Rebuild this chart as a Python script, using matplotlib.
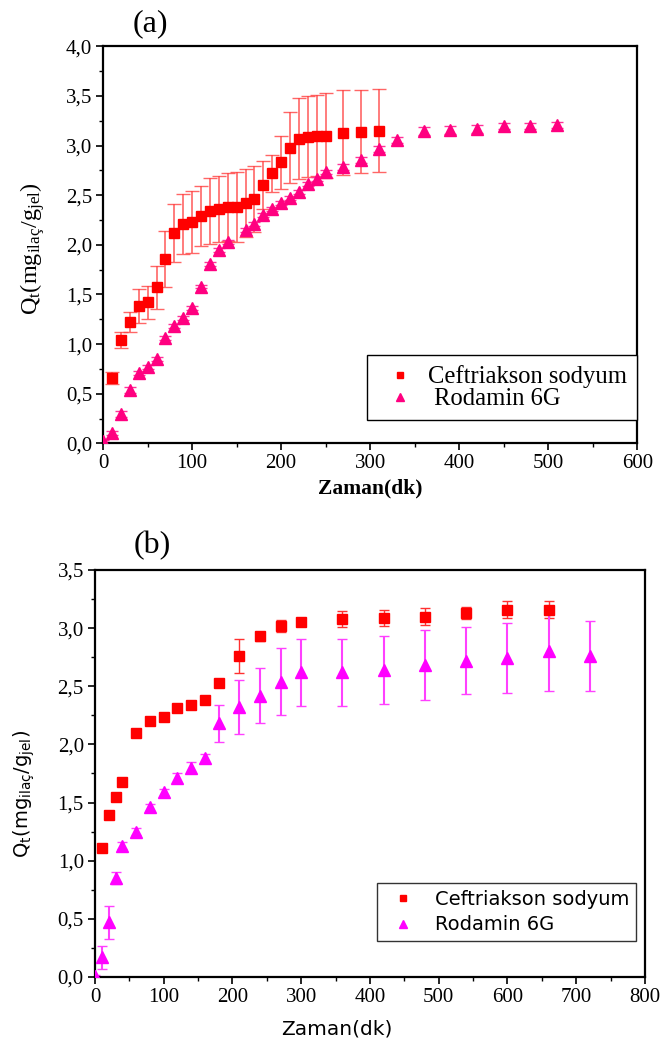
import matplotlib
matplotlib.use('Agg')
import matplotlib.pyplot as plt
from matplotlib.ticker import MultipleLocator, FuncFormatter

# panel (a)
a_cef_t = [10, 20, 30, 40, 50, 60, 70, 80, 90, 100, 110, 120, 130, 140, 150, 160, 170,
           180, 190, 200, 210, 220, 230, 240, 250, 270, 290, 310]
a_cef_q = [0.66, 1.04, 1.22, 1.38, 1.42, 1.57, 1.86, 2.12, 2.21, 2.23, 2.29, 2.34, 2.36,
           2.38, 2.38, 2.42, 2.46, 2.60, 2.72, 2.83, 2.98, 3.07, 3.09, 3.10, 3.10, 3.13,
           3.14, 3.15]
a_cef_err = [0.06, 0.08, 0.10, 0.17, 0.17, 0.22, 0.28, 0.29, 0.30, 0.31, 0.30, 0.33, 0.33,
             0.34, 0.35, 0.34, 0.33, 0.24, 0.19, 0.27, 0.36, 0.41, 0.41, 0.41, 0.43, 0.43,
             0.42, 0.42]
a_rod_t = [0, 10, 20, 30, 40, 50, 60, 70, 80, 90, 100, 110, 120, 130, 140, 160, 170, 180,
           190, 200, 210, 220, 230, 240, 250, 270, 290, 310, 330, 360, 390, 420, 450, 480, 510]
a_rod_q = [0.02, 0.10, 0.30, 0.54, 0.71, 0.77, 0.85, 1.06, 1.18, 1.26, 1.36, 1.58, 1.81,
           1.95, 2.03, 2.15, 2.21, 2.30, 2.36, 2.42, 2.47, 2.53, 2.61, 2.66, 2.73, 2.78,
           2.85, 2.97, 3.06, 3.15, 3.16, 3.17, 3.20, 3.20, 3.21]
a_rod_err = [0.01, 0.02, 0.03, 0.03, 0.02, 0.02, 0.02, 0.02, 0.02, 0.02, 0.02, 0.02, 0.02,
             0.02, 0.02, 0.02, 0.02, 0.02, 0.02, 0.02, 0.02, 0.02, 0.02, 0.02, 0.02, 0.03,
             0.03, 0.03, 0.03, 0.04, 0.04, 0.04, 0.03, 0.03, 0.03]

# panel (b)
b_cef_t = [10, 20, 30, 40, 60, 80, 100, 120, 140, 160, 180, 210, 240, 270, 300, 360, 420,
           480, 540, 600, 660]
b_cef_q = [1.11, 1.39, 1.55, 1.68, 2.10, 2.20, 2.24, 2.31, 2.34, 2.38, 2.53, 2.76, 2.93,
           3.02, 3.05, 3.08, 3.09, 3.10, 3.13, 3.16, 3.16]
b_cef_err = [0.01, 0.01, 0.01, 0.01, 0.02, 0.02, 0.01, 0.01, 0.01, 0.01, 0.01, 0.15, 0.04,
             0.05, 0.02, 0.07, 0.07, 0.07, 0.05, 0.07, 0.07]
b_rod_t = [0, 10, 20, 30, 40, 60, 80, 100, 120, 140, 160, 180, 210, 240, 270, 300, 360,
           420, 480, 540, 600, 660, 720]
b_rod_q = [0.01, 0.17, 0.47, 0.85, 1.13, 1.25, 1.46, 1.59, 1.71, 1.80, 1.88, 2.18, 2.32,
           2.42, 2.54, 2.62, 2.62, 2.64, 2.68, 2.72, 2.74, 2.80, 2.76]
b_rod_err = [0.01, 0.10, 0.14, 0.05, 0.03, 0.03, 0.03, 0.03, 0.04, 0.05, 0.04, 0.16, 0.23,
             0.24, 0.29, 0.29, 0.29, 0.29, 0.30, 0.29, 0.30, 0.34, 0.30]

plt.rcParams['mathtext.fontset'] = 'custom'
plt.rcParams['mathtext.rm'] = 'Liberation Serif'
plt.rcParams['mathtext.it'] = 'Liberation Serif:italic'

comma = FuncFormatter(lambda v, p: f'{v:.1f}'.replace('.', ','))
serif = 'Liberation Serif'


def style_axes(ax, font, size):
    ax.xaxis.set_major_locator(MultipleLocator(100))
    ax.xaxis.set_minor_locator(MultipleLocator(50))
    ax.yaxis.set_major_locator(MultipleLocator(0.5))
    ax.yaxis.set_minor_locator(MultipleLocator(0.25))
    ax.yaxis.set_major_formatter(comma)
    ax.tick_params(which='major', direction='out', length=5, width=1.2, labelsize=size, pad=3)
    ax.tick_params(which='minor', direction='out', length=3, width=1.0)
    for lab in ax.get_xticklabels() + ax.get_yticklabels():
        lab.set_fontfamily(font)
    for s in ax.spines.values():
        s.set_linewidth(1.6)


fig = plt.figure(figsize=(6.61, 10.53), dpi=100)

# (a)
ax1 = fig.add_axes([0.156, 0.579, 0.808, 0.377])
ax1.errorbar(a_cef_t, a_cef_q, yerr=a_cef_err, fmt='none', ecolor='#ff4040', elinewidth=1.2,
             capsize=5, capthick=1.0, alpha=0.8, zorder=2)
ax1.errorbar(a_rod_t, a_rod_q, yerr=a_rod_err, fmt='none', ecolor='#ff3399', elinewidth=1.0,
             capsize=4, zorder=2)
ax1.plot(a_cef_t, a_cef_q, 's', color='#ff0000', markersize=7.5, linestyle='none',
         label='Ceftriakson sodyum', zorder=3)
ax1.plot(a_rod_t, a_rod_q, '^', color='#ff0080', markersize=8, linestyle='none',
         label=' Rodamin 6G', zorder=3)
ax1.set_xlim(0, 600)
ax1.set_ylim(0, 4.0)
style_axes(ax1, serif, 15)
ax1.set_xlabel('Zaman(dk)', fontfamily=serif, fontsize=15.5, fontweight='bold', labelpad=4)
ax1.set_ylabel(r'Q$_\mathrm{t}$(mg$_\mathrm{ilaç}$/g$_\mathrm{jel}$)', fontfamily=serif,
               fontsize=17.5, math_fontfamily='custom')
ax1.yaxis.set_label_coords(-0.105, 0.49)
ax1.text(0.056, 1.02, '(a)', transform=ax1.transAxes, fontfamily=serif, fontsize=23,
         ha='left', va='bottom')
leg1 = ax1.legend(loc='lower right', bbox_to_anchor=(1.0, 0.058), borderaxespad=0,
                  prop={'family': serif, 'size': 17.7}, fancybox=False, edgecolor='black',
                  framealpha=1, handlelength=1.95, handletextpad=0.16, borderpad=0.4,
                  labelspacing=0.0, markerscale=0.65)
leg1.get_frame().set_linewidth(1.0)

# (b)
ax2 = fig.add_axes([0.1437, 0.0722, 0.832, 0.3865])
ax2.errorbar(b_cef_t, b_cef_q, yerr=b_cef_err, fmt='none', ecolor='#ff3030', elinewidth=1.0,
             capsize=3.5, zorder=2)
ax2.errorbar(b_rod_t, b_rod_q, yerr=b_rod_err, fmt='none', ecolor='#ff40ff', elinewidth=1.5,
             capsize=3.5, zorder=2)
ax2.plot(b_cef_t, b_cef_q, 's', color='#ff0000', markersize=7, linestyle='none',
         label='Ceftriakson sodyum', zorder=3)
ax2.plot(b_rod_t, b_rod_q, '^', color='#ff00ff', markersize=9, linestyle='none',
         label='Rodamin 6G', zorder=3)
ax2.set_xlim(0, 800)
ax2.set_ylim(0, 3.5)
style_axes(ax2, serif, 15)
ax2.set_xlabel('Zaman(dk)', fontfamily='DejaVu Sans', fontsize=14.5)
ax2.xaxis.set_label_coords(0.44, -0.105)
ax2.set_ylabel(r'Q$_\mathrm{t}$(mg$_\mathrm{ilaç}$/g$_\mathrm{jel}$)', fontfamily='DejaVu Sans',
               fontsize=14, math_fontfamily='dejavusans')
ax2.yaxis.set_label_coords(-0.105, 0.45)
ax2.text(0.07, 1.025, '(b)', transform=ax2.transAxes, fontfamily=serif, fontsize=23,
         ha='left', va='bottom')
leg2 = ax2.legend(loc='lower right', bbox_to_anchor=(0.984, 0.088), borderaxespad=0,
                  prop={'family': 'DejaVu Sans', 'size': 14}, fancybox=False,
                  edgecolor='#333333', framealpha=1, handletextpad=0.65, borderpad=0.35,
                  labelspacing=0.35, markerscale=0.7)
leg2.get_frame().set_linewidth(1.0)

fig.savefig('out.png', dpi=100, facecolor='white')
